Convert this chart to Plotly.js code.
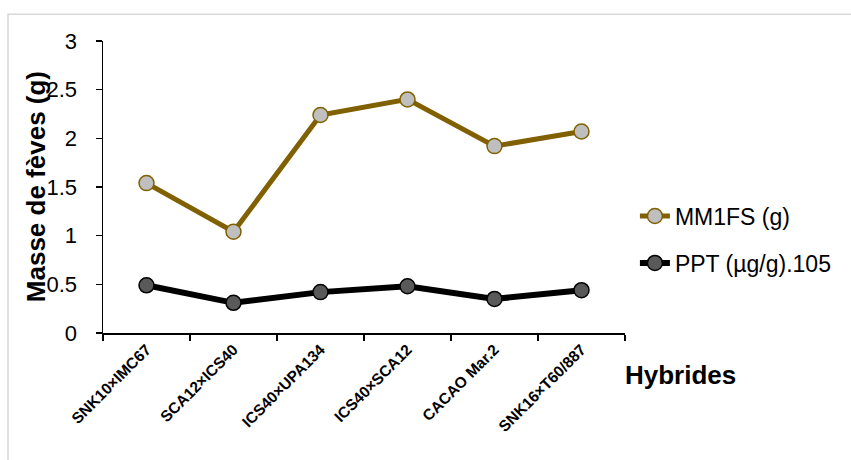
<!DOCTYPE html>
<html>
<head>
<meta charset="utf-8">
<script src="https://cdn.plot.ly/plotly-3.0.1.min.js"></script>
<style>html,body{margin:0;padding:0;background:#fff;}#chart{width:851px;height:460px;}</style>
</head>
<body>
<div id="chart"></div>
<script>
const categories = ["SNK10×IMC67", "SCA12×ICS40", "ICS40×UPA134", "ICS40×SCA12", "CACAO Mar.2", "SNK16×T60/887"];
const mm1fs = [1.54, 1.04, 2.24, 2.40, 1.92, 2.07];
const ppt = [0.49, 0.31, 0.42, 0.48, 0.35, 0.44];
const yTicks = [0, 0.5, 1, 1.5, 2, 2.5, 3];
const yTickText = ["0", "0.5", "1", "1.5", "2", "2.5", "3"];
const yTitle = "Masse de fèves (g)";
const xTitle = "Hybrides";

const F = "Arial, 'Liberation Sans', sans-serif";
const traces = [
  {x: categories, y: mm1fs, name: "MM1FS (g)", type: "scatter", mode: "lines+markers",
   legendgroup: "a",
   line: {color: "#806000", width: 5},
   marker: {size: 15, color: "#bfbfbf", line: {color: "#806000", width: 1.5}}},
  {x: categories, y: ppt, name: "PPT (µg/g).105", type: "scatter", mode: "lines+markers",
   legendgroup: "b",
   line: {color: "#000000", width: 6},
   marker: {size: 15, color: "#595959", line: {color: "#000000", width: 1.5}}}
];
const layout = {
  width: 851, height: 460,
  margin: {l: 103, r: 226, t: 41, b: 127},
  paper_bgcolor: "#fff", plot_bgcolor: "#fff",
  font: {family: F, color: "#000"},
  showlegend: true,
  legend: {x: 1.019, y: 0.32, xanchor: "left", yanchor: "middle", font: {size: 23, family: F},
           traceorder: "grouped", tracegroupgap: 14, bgcolor: "rgba(0,0,0,0)"},
  xaxis: {type: "category", showline: true, linecolor: "#000", linewidth: 1.5,
          ticks: "outside", tickson: "boundaries", ticklen: 6, tickcolor: "#000", tickwidth: 1.5,
          tickangle: -45, tickfont: {size: 15.5, family: F, weight: "bold"},
          showgrid: false, zeroline: false, range: [-0.5, 5.5], fixedrange: true},
  yaxis: {range: [0, 3], tickvals: yTicks, ticktext: yTickText, showline: true, linecolor: "#000", linewidth: 1.5,
          ticks: "outside", ticklen: 6, tickcolor: "#000", tickwidth: 1.5, ticklabelstandoff: 14,
          tickfont: {size: 22, family: F}, showgrid: false, zeroline: false},
  annotations: [
    {text: yTitle, xref: "paper", yref: "paper", x: -0.128, y: 0.5, xanchor: "center", yanchor: "middle",
     textangle: -90, showarrow: false, font: {size: 26, family: F, weight: "bold"}},
    {text: xTitle, xref: "paper", yref: "paper", x: 1.0, y: -0.143, xanchor: "left", yanchor: "middle",
     showarrow: false, font: {size: 26, family: F, weight: "bold"}, xshift: -2}
  ],
  shapes: [
    {type: "rect", xref: "paper", yref: "paper", x0: -0.182, x1: 1.5, y0: -0.6, y1: 1.092,
     line: {color: "#d9d9d9", width: 1.5}, fillcolor: "rgba(0,0,0,0)", layer: "below"}
  ]
};
Plotly.newPlot("chart", traces, layout, {displayModeBar: false, staticPlot: true});
</script>
</body>
</html>
